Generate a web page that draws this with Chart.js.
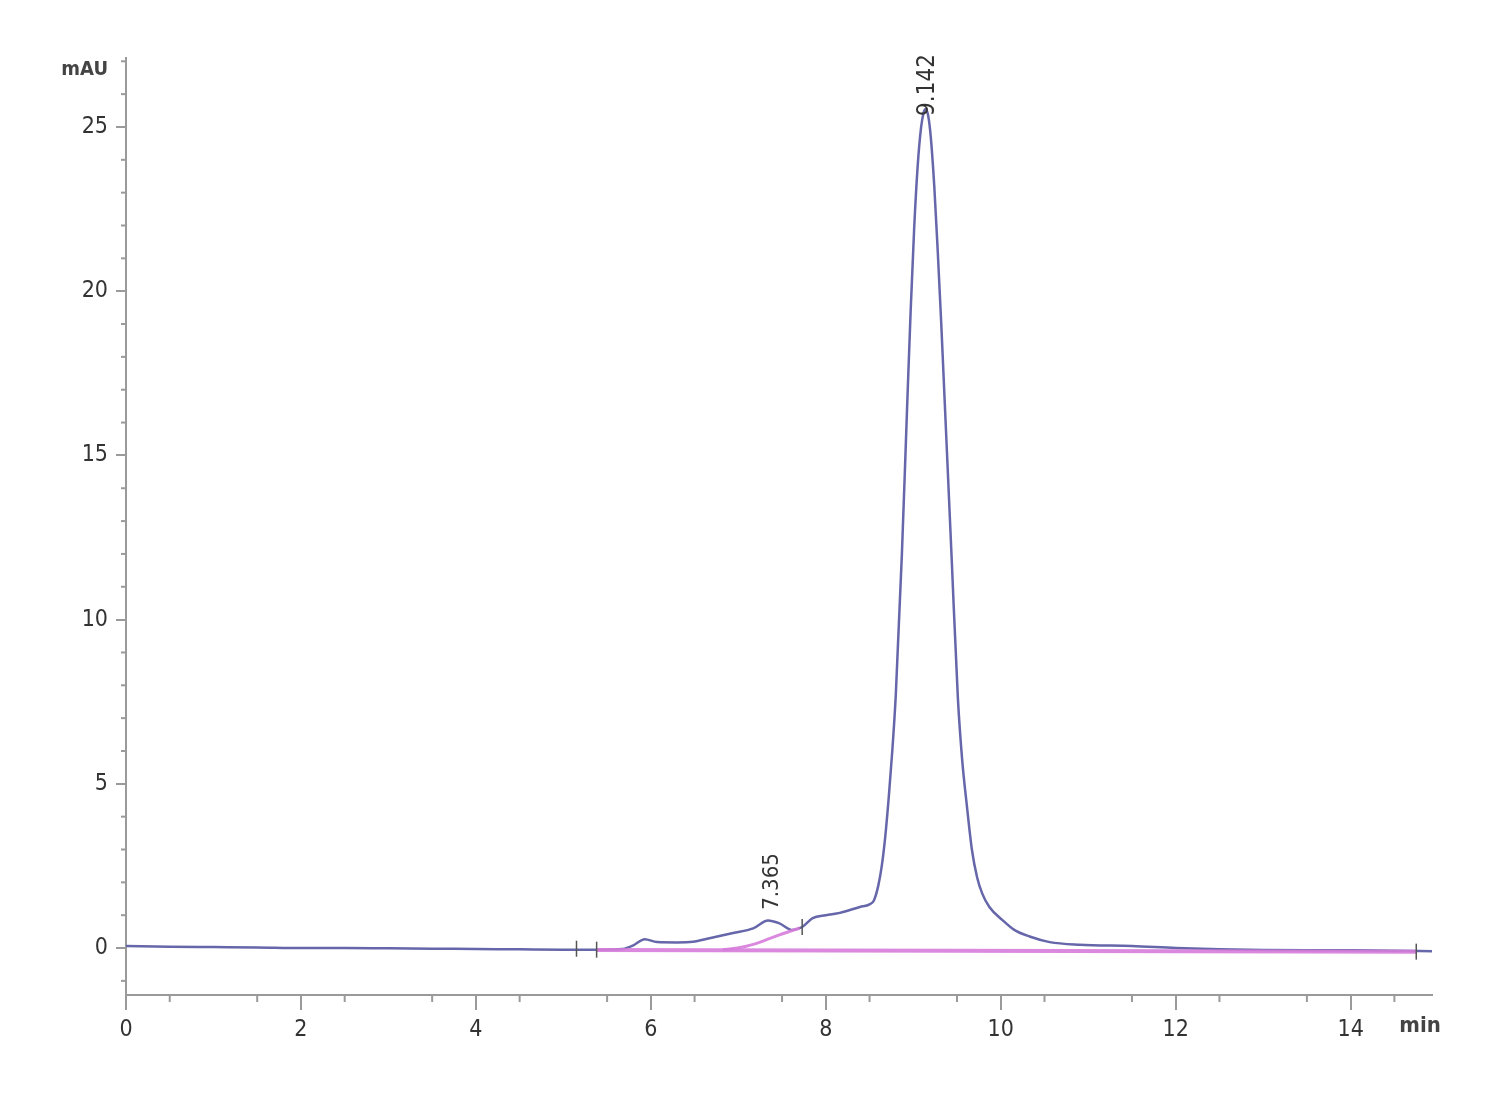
<!DOCTYPE html>
<html>
<head>
<meta charset="utf-8">
<script src="https://cdn.jsdelivr.net/npm/chart.js@4"></script>
<style>
  body { margin: 0; background: #fff; }
  #wrap { width: 1500px; height: 1100px; }
</style>
</head>
<body>
<div id="wrap"><canvas id="chrom"></canvas></div>
<script>
// signal trace (time in min, signal in mAU)
const times = [0.0, 0.5, 1.0, 1.5, 2.0, 2.5, 3.0, 3.5, 4.0, 4.5, 5.0, 5.4, 5.68, 5.8, 5.93, 6.07,
  6.3, 6.48, 6.67, 6.94, 7.17, 7.34, 7.47, 7.62, 7.73, 7.85, 8.0, 8.16, 8.39, 8.5, 8.55, 8.6, 8.64,
  8.68, 8.72, 8.76, 8.8, 8.87, 8.93, 8.97, 9.01, 9.05, 9.09, 9.12, 9.142, 9.17, 9.2, 9.24, 9.28,
  9.32, 9.36, 9.44, 9.51, 9.56, 9.61, 9.67, 9.73, 9.79, 9.87, 10.02, 10.15, 10.33, 10.56, 10.9,
  11.5, 12.0, 12.5, 13.0, 13.5, 14.0, 14.5, 14.93];
const signal = [0.06, 0.04, 0.03, 0.02, 0.0, 0.0, -0.01, -0.02, -0.03, -0.04, -0.05, -0.05, -0.03, 0.08, 0.27, 0.18,
  0.17, 0.19, 0.30, 0.46, 0.60, 0.84, 0.75, 0.55, 0.64, 0.91, 1.00, 1.07, 1.25, 1.33, 1.45, 1.9, 2.5,
  3.4, 4.6, 6.0, 7.7, 12.0, 16.5, 19.4, 21.9, 23.8, 25.0, 25.45, 25.55, 25.35, 24.7, 23.2, 21.2,
  19.0, 16.6, 11.8, 7.6, 5.7, 4.4, 3.0, 2.15, 1.65, 1.25, 0.85, 0.56, 0.35, 0.18, 0.10,
  0.06, 0.0, -0.04, -0.06, -0.07, -0.07, -0.08, -0.10];

// integration baselines
const baseTimes = [5.38, 14.75];
const baseValues = [-0.06, -0.11];
const dropTimes = [6.82, 7.05, 7.25, 7.47, 7.70];
const dropValues = [-0.05, 0.03, 0.18, 0.40, 0.61];

// peak labels
const peakTimes = [7.365, 9.142];
const peakHeights = [0.86, 25.55];
const peakLabels = ['7.365', '9.142'];

// integration event marks
const eventTimes = [5.15, 5.38, 7.73, 14.75];
const eventValues = [-0.02, -0.05, 0.64, -0.11];

// axes
const xTickLabels = [0, 2, 4, 6, 8, 10, 12, 14];
const yTickLabels = [0, 5, 10, 15, 20, 25];

const axisColor = '#9a9a9a';
const textColor = '#333333';
const fontFamily = "'Liberation Sans Narrow', 'DejaVu Sans Condensed', 'Liberation Sans', sans-serif";

const toPoints = (xs, ys) => xs.map((t, i) => ({ x: t, y: ys[i] }));

const extras = {
  id: 'extras',
  afterDatasetsDraw(chart) {
    const { ctx, scales: { x, y } } = chart;
    ctx.save();
    // minor ticks
    ctx.strokeStyle = axisColor;
    ctx.lineWidth = 2;
    for (let v = 0.5; v <= x.max; v += 1) {
      const px = x.getPixelForValue(v);
      ctx.beginPath(); ctx.moveTo(px, y.bottom); ctx.lineTo(px, y.bottom + 7); ctx.stroke();
    }
    for (let v = -1; v <= y.max; v += 1) {
      if (v % 5 === 0) continue;
      const py = y.getPixelForValue(v);
      ctx.beginPath(); ctx.moveTo(x.left - 5, py); ctx.lineTo(x.left, py); ctx.stroke();
    }
    // event marks
    ctx.strokeStyle = '#555';
    ctx.lineWidth = 1.5;
    eventTimes.forEach((t, i) => {
      const px = x.getPixelForValue(t);
      const py = y.getPixelForValue(eventValues[i]);
      ctx.beginPath(); ctx.moveTo(px, py - 8); ctx.lineTo(px, py + 8); ctx.stroke();
    });
    // peak labels
    ctx.fillStyle = textColor;
    ctx.textAlign = 'left';
    ctx.textBaseline = 'middle';
    peakTimes.forEach((t, i) => {
      const px = x.getPixelForValue(t);
      const py = y.getPixelForValue(peakHeights[i]);
      ctx.save();
      ctx.font = (i === 1 ? '24px ' : '22px ') + fontFamily;
      ctx.translate(px + 2, i === 1 ? py + 7 : py - 10);
      ctx.rotate(-Math.PI / 2);
      ctx.fillText(peakLabels[i], 0, 0);
      ctx.restore();
    });
    // unit labels
    ctx.font = 'bold 20px ' + fontFamily;
    ctx.fillStyle = '#444';
    ctx.textAlign = 'right';
    ctx.fillText('mAU', x.left - 18, y.top + 12);
    ctx.font = 'bold 22px ' + fontFamily;
    ctx.textAlign = 'center';
    ctx.textBaseline = 'top';
    ctx.fillText('min', x.right - 12, y.bottom + 20);
    ctx.restore();
  }
};

new Chart(document.getElementById('chrom'), {
  type: 'line',
  data: {
    datasets: [
      {
        data: toPoints(baseTimes, baseValues),
        borderColor: 'rgba(214, 124, 218, 0.9)',
        borderWidth: 4,
        pointRadius: 0,
        order: 1
      },
      {
        data: toPoints(dropTimes, dropValues),
        borderColor: 'rgba(214, 124, 218, 0.9)',
        borderWidth: 3,
        pointRadius: 0,
        cubicInterpolationMode: 'monotone',
        order: 1
      },
      {
        data: toPoints(times, signal),
        borderColor: '#6666aa',
        borderWidth: 2.5,
        pointRadius: 0,
        cubicInterpolationMode: 'monotone',
        order: 2
      }
    ]
  },
  options: {
    responsive: true,
    maintainAspectRatio: false,
    animation: false,
    layout: { padding: { top: 58, right: 68, bottom: 0, left: 0 } },
    plugins: { legend: { display: false }, tooltip: { enabled: false } },
    scales: {
      x: {
        type: 'linear',
        min: 0,
        max: 14.93,
        afterFit(scale) { scale.height = 105; },
        afterBuildTicks(scale) { scale.ticks = xTickLabels.map(v => ({ value: v })); },
        border: { color: axisColor, width: 2 },
        grid: { drawOnChartArea: false, color: axisColor, lineWidth: 2, tickLength: 15 },
        ticks: { color: textColor, padding: 6, maxRotation: 0, autoSkip: false,
          font: { family: fontFamily, size: 23 } }
      },
      y: {
        type: 'linear',
        min: -1.43,
        max: 27.1,
        afterFit(scale) { scale.width = 126; },
        afterBuildTicks(scale) { scale.ticks = yTickLabels.map(v => ({ value: v })); },
        border: { color: axisColor, width: 2 },
        grid: { drawOnChartArea: false, color: axisColor, lineWidth: 2, tickLength: 10 },
        ticks: { color: textColor, padding: 8, font: { family: fontFamily, size: 23 } }
      }
    }
  },
  plugins: [extras]
});
</script>
</body>
</html>
